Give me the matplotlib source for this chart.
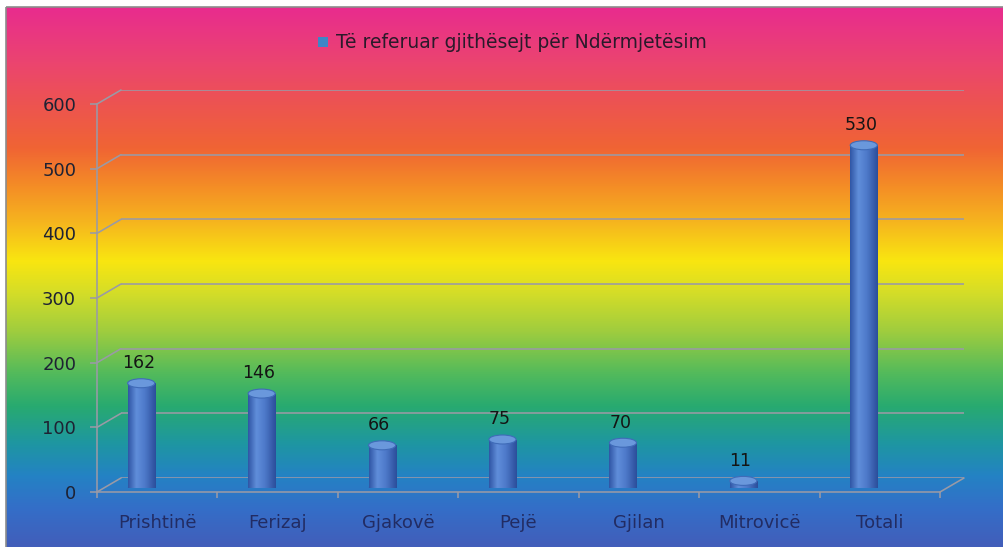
import numpy as np
import matplotlib
matplotlib.use('Agg')
import matplotlib.pyplot as plt
from matplotlib.patches import Rectangle, Ellipse, ConnectionPatch
from matplotlib.colors import LinearSegmentedColormap

# data
categories = ['Prishtinë', 'Ferizaj', 'Gjakovë', 'Pejë', 'Gjilan', 'Mitrovicë', 'Totali']
values = [162, 146, 66, 75, 70, 11, 530]
yticks = [0, 100, 200, 300, 400, 500, 600]
series_name = 'Të referuar gjithësejt për Ndërmjetësim'

W, H = 1004, 547
DPI = 100


def px_rect(left, top, right, bottom):
    # pixel box -> figure fraction
    return [left / W, (H - bottom) / H, (right - left) / W, (bottom - top) / H]


fig = plt.figure(figsize=(W / DPI, H / DPI), dpi=DPI)

# rainbow background
bg_colors = [
    (0.00, (232, 44, 142)),
    (0.10, (235, 68, 112)),
    (0.18, (237, 84, 80)),
    (0.26, (240, 100, 52)),
    (0.33, (244, 140, 38)),
    (0.40, (246, 182, 30)),
    (0.47, (249, 230, 16)),
    (0.53, (212, 221, 40)),
    (0.60, (160, 205, 62)),
    (0.68, (82, 186, 92)),
    (0.74, (40, 170, 112)),
    (0.81, (30, 150, 162)),
    (0.87, (36, 130, 196)),
    (0.93, (52, 110, 200)),
    (1.00, (66, 94, 186)),
]
bg_cmap = LinearSegmentedColormap.from_list(
    'bg', [(p, tuple(c / 255 for c in rgb)) for p, rgb in bg_colors])
ax_bg = fig.add_axes([0, 0, 1, 1])
ax_bg.imshow(np.linspace(0, 1, 256).reshape(-1, 1), cmap=bg_cmap, aspect='auto',
             extent=(6, W, H, 7))
ax_bg.set_xlim(0, W)
ax_bg.set_ylim(H, 0)
ax_bg.add_patch(Rectangle((6, 7), W - 6, H, fill=False, edgecolor='#8c8c8c', lw=1.2))
ax_bg.axis('off')

grid_col = '#9a9aa6'
lw = 1.15
xlim = (-0.5, len(categories) - 0.5)
ylim = (0, 600)

# back wall (grid lines)
ax_back = fig.add_axes(px_rect(121, 90, 964, 478))
ax_back.set_xlim(*xlim)
ax_back.set_ylim(*ylim)
ax_back.axis('off')
for v in yticks:
    ax_back.axhline(v, color=grid_col, lw=lw)

# front axes
ax = fig.add_axes(px_rect(97, 104, 940, 492))
ax.set_xlim(*xlim)
ax.set_ylim(*ylim)
ax.patch.set_visible(False)
for s in ['top', 'right']:
    ax.spines[s].set_visible(False)
for s in ['left', 'bottom']:
    ax.spines[s].set_color(grid_col)
    ax.spines[s].set_linewidth(lw)
ax.set_yticks(yticks)
ax.set_yticklabels([str(v) for v in yticks], fontsize=13, color='#1e2233')
ax.tick_params(axis='y', length=5, width=lw, color=grid_col, pad=10)
ax.set_xticks(np.arange(len(categories) + 1) - 0.5)
ax.set_xticklabels([])
ax.tick_params(axis='x', length=4.5, width=lw, color=grid_col)
for i, c in enumerate(categories):
    ax.annotate(c, (i, 0), xytext=(0, -22.5), textcoords='offset points', ha='center',
                va='center', fontsize=13, color='#222c63', annotation_clip=False)

# connectors front -> back
for v in yticks:
    ax.add_artist(ConnectionPatch(xyA=(xlim[0], v), coordsA=ax.transData,
                                  xyB=(xlim[0], v), coordsB=ax_back.transData,
                                  color=grid_col, lw=lw))
ax.add_artist(ConnectionPatch(xyA=(xlim[1], 0), coordsA=ax.transData,
                              xyB=(xlim[1], 0), coordsB=ax_back.transData,
                              color=grid_col, lw=lw))

# bars (cylinders)
ax_bar = fig.add_axes(px_rect(81, 100, 924, 488))
ax_bar.set_xlim(*xlim)
ax_bar.set_ylim(*ylim)
ax_bar.axis('off')

body_cmap = LinearSegmentedColormap.from_list('body', [
    (0.0, (48 / 255, 86 / 255, 165 / 255)),
    (0.3, (96 / 255, 142 / 255, 218 / 255)),
    (0.6, (78 / 255, 122 / 255, 202 / 255)),
    (1.0, (44 / 255, 78 / 255, 155 / 255)),
])
bw = 0.225
eh = 9 * 600 / 388  # ellipse height in data units (~9 px)
for i, v in enumerate(values):
    x0, x1 = i - bw / 2, i + bw / 2
    ax_bar.add_patch(Ellipse((i, 0), bw, eh, facecolor='#3d68b5', edgecolor='none', zorder=2))
    rect = Rectangle((x0, 0), bw, v, facecolor='none', edgecolor='none')
    ax_bar.add_patch(rect)
    im = ax_bar.imshow(np.linspace(0, 1, 64).reshape(1, -1), cmap=body_cmap, aspect='auto',
                       extent=(x0, x1, 0, v), zorder=3)
    im.set_clip_path(rect)
    ax_bar.add_patch(Ellipse((i, v), bw, eh, facecolor='#6a98dc', edgecolor='#3f6bb8',
                             lw=0.8, zorder=4))
    ax_bar.annotate(str(v), (i, v), xytext=(-2, 14.5), textcoords='offset points',
                    ha='center', va='center', fontsize=12.5, color='#141414')
ax_bar.set_xlim(*xlim)
ax_bar.set_ylim(*ylim)

# legend at top
ax_bg.add_patch(Rectangle((318, 37), 10, 10, facecolor='#3d86c6', edgecolor='none'))
ax_bg.text(336, 42, series_name, ha='left', va='center', fontsize=13.5, color='#2a1a2a')

fig.savefig('out.png', dpi=DPI)
